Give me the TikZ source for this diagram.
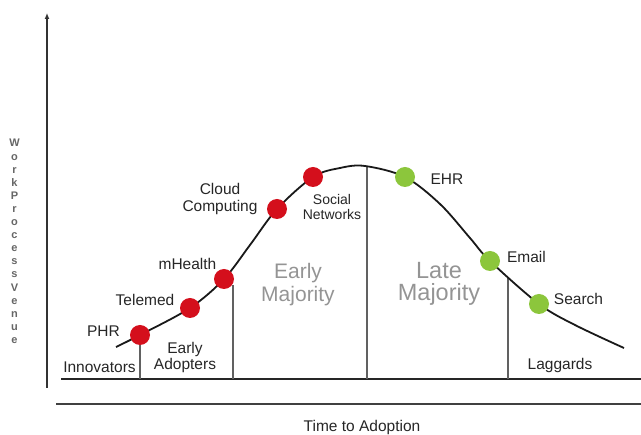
\documentclass[tikz,border=0pt]{standalone}
\usepackage{fontspec}
\setmainfont{Liberation Sans}
\usetikzlibrary{arrows.meta}
\definecolor{dotred}{HTML}{D40F1C}
\definecolor{dotgreen}{HTML}{8CC63C}
\begin{document}
\begin{tikzpicture}[x=1pt,y=-1pt,
  lbl/.style={font=\fontsize{15.5}{16.5}\selectfont, text=black!85, inner sep=0pt, align=center},
  phase/.style={font=\fontsize{21}{23}\selectfont, text=black!42, inner sep=0pt, align=center},
  bigphase/.style={font=\fontsize{23.5}{22}\selectfont, text=black!42, inner sep=0pt, align=center},
  reddot/.style={circle, fill=dotred, minimum size=20pt, inner sep=0pt},
  greendot/.style={circle, fill=dotgreen, minimum size=20pt, inner sep=0pt},
  divider/.style={draw=black!62, line width=1.2pt},
  axisline/.style={draw=black!80, line width=1.3pt},
]
\useasboundingbox (0,0) rectangle (641,435);

% axes
\coordinate (ybot) at (47,388);
\coordinate (ytop) at (47,13);
\draw[axisline, -{Latex[length=6pt,width=5pt]}] (ybot) -- (ytop);
\coordinate (baseL) at (61,379);
\coordinate (baseR) at (641,379);
\draw[draw=black!85, line width=1.8pt] (baseL) -- (baseR);
\coordinate (lowL) at (56,404);
\coordinate (lowR) at (641,404);
\draw[draw=black!75, line width=1.6pt] (lowL) -- (lowR);

% segment dividers
\coordinate (d1t) at (140,335);  \coordinate (d1b) at (140,379);
\coordinate (d2t) at (233,285);  \coordinate (d2b) at (233,379);
\coordinate (d3t) at (367,167);  \coordinate (d3b) at (367,379);
\coordinate (d4t) at (508,277);  \coordinate (d4b) at (508,379);
\draw[divider] (d1t) -- (d1b);
\draw[divider] (d2t) -- (d2b);
\draw[divider] (d3t) -- (d3b);
\draw[divider] (d4t) -- (d4b);

% adoption curve
\draw[line width=1.8pt, black!90] plot[smooth, tension=0.55] coordinates {
  (116,347) (140,335) (190,308) (224,279) (250,245) (277,209) (313,177)
  (340,168) (365,166) (405,177) (440,204) (470,238) (490,261) (539,304)
  (575,325) (624,348)};

% technologies on the curve
\node[reddot] (phr) at (140,335) {};
\node[reddot] (telemed) at (190,308) {};
\node[reddot] (mhealth) at (224,279) {};
\node[reddot] (cloud) at (277,209) {};
\node[reddot] (social) at (313,177) {};
\node[greendot] (ehr) at (405,177) {};
\node[greendot] (email) at (490,261) {};
\node[greendot] (search) at (539,304) {};

% technology labels
\node[lbl] (phrL) at (103.5,331) {PHR};
\node[lbl] (telemedL) at (145,300) {Telemed};
\node[lbl] (mhealthL) at (187.5,264) {mHealth};
\node[lbl] (cloudL) at (220,199) {Cloud\\Computing};
\node[lbl, font=\fontsize{14}{15.5}\selectfont] (socialL) at (332,207) {Social\\Networks};
\node[lbl] (ehrL) at (447,179) {EHR};
\node[lbl] (emailL) at (526.5,257) {Email};
\node[lbl] (searchL) at (578.5,299) {Search};

% adopter categories
\node[lbl] (innov) at (99.5,367) {Innovators};
\node[lbl] (early) at (185,357.5) {Early\\Adopters};
\node[phase] (emaj) at (298,285) {Early\\Majority};
\node[bigphase] (lmaj) at (439,284) {Late\\Majority};
\node[lbl] (lagg) at (560,365) {Laggards};

% axis titles
\node[lbl] (xtitle) at (362,427) {Time to Adoption};
\node[font=\fontsize{11}{13.1}\selectfont\bfseries, text=black!60, inner sep=0pt, align=center] (ytitle) at (14.5,241.5)
  {W\\o\\r\\k\\P\\r\\o\\c\\e\\s\\s\\V\\e\\n\\u\\e};
\end{tikzpicture}
\end{document}
